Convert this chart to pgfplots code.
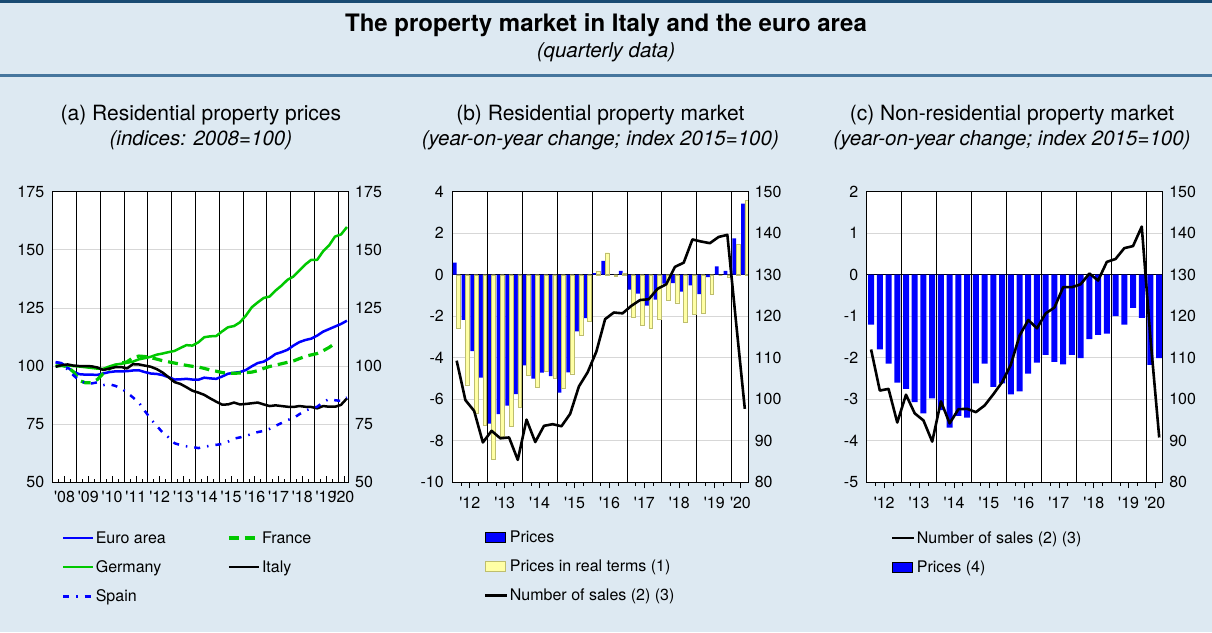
\documentclass[border=0pt]{standalone}
\usepackage{fontspec}
\setmainfont{TeX Gyre Heros}
\usepackage{pgfplots}
\pgfplotsset{compat=1.18}
\usepackage{pgfplotstable}

\definecolor{bgblue}{RGB}{221,233,242}
\definecolor{topline}{RGB}{25,75,115}
\definecolor{sepline}{RGB}{70,118,158}
\definecolor{mygreen}{RGB}{0,200,0}
\definecolor{baryellow}{RGB}{255,255,165}
\definecolor{baryedge}{RGB}{190,190,110}
\definecolor{gridgray}{RGB}{215,215,215}
\newcommand{\q}{\textquotesingle}

% Panel (a): quarterly indices 2008Q1..2020Q2 (x = quarter index + 0.5)
\pgfplotstableread{
x euro france germany italy spain
0.5 101.6 100.0 100.0 99.7 101.7
1.5 101.2 100.2 100.3 100.4 101.2
2.5 99.4 99.7 100.3 100.7 98.5
3.5 97.5 97.5 100.0 100.2 96.0
4.5 96.5 93.8 99.8 100.0 93.7
5.5 96.3 92.8 99.5 100.0 92.7
6.5 96.3 92.8 99.2 99.9 92.5
7.5 96.2 94.2 98.9 99.4 93.0
8.5 96.8 96.8 98.8 98.3 91.8
9.5 97.4 98.8 99.8 98.9 92.2
10.5 97.7 100.3 100.6 99.5 91.5
11.5 97.7 101.3 101.0 99.6 90.5
12.5 97.8 101.8 101.4 99.0 88.6
13.5 98.1 103.6 101.9 100.8 86.5
14.5 98.2 104.3 102.9 100.7 84.3
15.5 97.4 104.1 103.4 100.2 80.7
16.5 96.8 103.6 104.0 99.7 77.2
17.5 96.6 103.0 104.9 98.7 74.3
18.5 96.1 102.3 105.4 97.2 71.4
19.5 95.2 101.8 106.0 95.2 69.3
20.5 94.2 101.3 106.5 93.1 66.8
21.5 94.3 100.8 107.8 92.3 66.0
22.5 94.5 100.3 109.0 90.9 65.5
23.5 94.2 99.9 108.8 89.4 65.2
24.5 94.1 99.6 110.2 88.6 64.7
25.5 95.0 99.0 112.4 87.6 65.3
26.5 94.7 98.3 112.8 86.1 65.7
27.5 94.5 97.8 112.9 84.7 66.1
28.5 95.5 97.2 114.9 83.4 66.5
29.5 96.7 96.9 116.7 83.5 67.5
30.5 97.1 96.9 117.2 84.3 68.8
31.5 97.4 97.0 118.8 83.5 69.3
32.5 98.3 97.2 121.7 83.7 70.0
33.5 99.9 97.4 125.3 84.0 70.8
34.5 101.3 98.0 127.4 84.3 71.6
35.5 101.9 99.0 129.3 83.5 72.1
36.5 103.4 99.8 129.9 82.8 73.0
37.5 105.2 100.4 132.5 83.1 74.3
38.5 106.0 101.0 134.6 82.8 75.5
39.5 107.0 101.6 137.1 82.5 76.8
40.5 108.8 102.2 138.5 82.4 77.6
41.5 110.3 103.2 141.1 82.8 79.3
42.5 111.2 104.2 143.7 82.5 80.8
43.5 111.8 104.8 145.7 82.4 81.8
44.5 113.1 105.4 145.7 81.8 82.5
45.5 114.8 106.6 149.4 82.8 84.5
46.5 115.9 108.0 151.9 82.5 85.8
47.5 117.0 109.8 155.7 82.5 85.3
48.5 118.1 nan 156.6 83.3 85.0
49.5 119.5 nan 159.8 86.1 86.5
}\tabA

% Panels (b) and (c): 2012Q1..2020Q2
\pgfplotstableread{
x bp br bs cp cs
0.5 0.58 -2.60 109.3 -1.20 112.0
1.5 -2.17 -5.30 99.8 -1.80 102.1
2.5 -3.68 -6.66 97.2 -2.14 102.5
3.5 -4.96 -7.26 89.6 -2.60 94.4
4.5 -7.17 -8.91 92.4 -2.75 101.1
5.5 -6.71 -7.78 90.6 -3.07 96.6
6.5 -6.31 -7.30 90.8 -3.34 94.9
7.5 -5.75 -6.39 85.4 -2.98 89.8
8.5 -4.37 -4.86 95.1 -3.26 99.5
9.5 -5.00 -5.44 89.7 -3.68 94.2
10.5 -4.72 -4.67 93.6 -3.40 97.6
11.5 -4.88 -4.98 94.0 -3.44 97.7
12.5 -5.68 -5.49 93.5 -2.62 96.9
13.5 -4.70 -4.77 96.5 -2.14 98.5
14.5 -2.73 -2.92 103.1 -2.70 101.2
15.5 -2.09 -2.26 106.5 -2.62 104.1
16.5 0.08 0.16 111.5 -2.88 108.3
17.5 0.67 1.06 119.3 -2.81 115.3
18.5 0.00 -0.05 120.9 -2.38 119.1
19.5 0.18 0.05 120.7 -2.12 117.1
20.5 -0.72 -2.04 122.5 -1.93 120.7
21.5 -0.91 -2.41 123.9 -2.10 122.1
22.5 -1.49 -2.60 124.1 -2.16 127.0
23.5 -1.20 -2.12 126.6 -1.93 127.0
24.5 -0.43 -1.25 127.7 -2.01 127.7
25.5 -0.40 -1.35 131.9 -1.55 130.3
26.5 -0.82 -2.28 132.9 -1.45 128.6
27.5 -0.51 -1.91 138.5 -1.42 133.1
28.5 -0.93 -1.86 138.0 -1.00 133.8
29.5 -0.11 -0.96 137.6 -1.20 136.4
30.5 0.40 0.00 139.1 -0.80 136.9
31.5 0.19 -0.11 139.6 -1.04 141.6
32.5 1.75 1.45 118.5 -2.17 114.6
33.5 3.43 3.58 97.7 -2.01 90.8
}\tabB

\pgfplotsset{
  panelbase/.style={scale only axis, width=296pt, height=290.6pt, anchor=south west,
    tick label style={font=\fontsize{16}{18}\selectfont},
    tick align=inside, xtick pos=left, ytick style={draw=none},
    xtick style={black, line width=0.6pt},
    major tick length=6pt, minor tick length=3.5pt,
    axis line style={black, line width=0.8pt},
    ymajorgrids, major grid style={gridgray, line width=0.8pt},
    xticklabel style={yshift=-5pt},
    yticklabel style={xshift=-5pt},
    axis background/.style={fill=white},
    legend style={draw=none, fill=none, font=\fontsize{16}{18}\selectfont,
      anchor=north west, row sep=13pt, nodes={inner sep=1.5pt}},
    legend cell align=left,
  },
  rightbase/.style={scale only axis, width=296pt, height=290.6pt, anchor=south west,
    tick label style={font=\fontsize{16}{18}\selectfont},
    axis x line=none, axis y line*=right, ytick style={draw=none},
    axis line style={black, line width=0.8pt},
    yticklabel style={xshift=3pt},
  },
  linelegend/.style={legend image code/.code={\draw[##1] (0pt,0pt) -- (22pt,0pt);}},
  barlegend/.style={legend image code/.code={\draw[##1] (0pt,-5pt) rectangle (20pt,5pt);}},
}

\begin{document}
\begin{tikzpicture}
\fill[bgblue] (0pt,0pt) rectangle (1212pt,632pt);
\fill[topline] (0pt,629pt) rectangle (1212pt,632pt);
\fill[sepline] (0pt,555pt) rectangle (1212pt,557.5pt);
\node[font=\fontsize{24}{28}\selectfont\bfseries] at (606pt,607pt) {The property market in Italy and the euro area};
\node[font=\fontsize{20.5}{24}\selectfont\itshape] at (606pt,580pt) {(quarterly data)};

\node[font=\fontsize{21}{24}\selectfont] at (200.9pt,517pt) {(a) Residential property prices};
\node[font=\fontsize{20.5}{24}\selectfont\itshape] at (200.9pt,492pt) {(indices: 2008=100)};
\node[font=\fontsize{21}{24}\selectfont] at (600.3pt,517pt) {(b) Residential property market};
\node[font=\fontsize{20.5}{24}\selectfont\itshape] at (600.3pt,492pt) {(year-on-year change; index 2015=100)};
\node[font=\fontsize{21}{24}\selectfont] at (1012pt,517pt) {(c) Non-residential property market};
\node[font=\fontsize{20.5}{24}\selectfont\itshape] at (1012pt,492pt) {(year-on-year change; index 2015=100)};

% ---------- Panel (a) ----------
\begin{axis}[panelbase, at={(52.7pt,149.7pt)},
  xmin=0, xmax=49.8, ymin=50, ymax=175,
  ytick={50,75,100,125,150,175}, yticklabels={50,75,100,125,150,175},
  xtick={2,6,10,14,18,22,26,30,34,38,42,46,49},
  xticklabels={\q08,\q09,\q10,\q11,\q12,\q13,\q14,\q15,\q16,\q17,\q18,\q19,\q20},
  minor xtick={1,3,5,7,9,11,13,15,17,19,21,23,25,27,29,31,33,35,37,39,41,43,45,47},
  extra x ticks={4,8,12,16,20,24,28,32,36,40,44,48}, extra x tick labels={},
  extra x tick style={grid=major, major grid style={black, line width=0.8pt}, major tick length=0pt},
  legend columns=2,
  legend style={at={(0.02,-0.156)}, /tikz/every even column/.append style={column sep=60pt}},
  legend image code/.code={\draw[#1] (0pt,0pt) -- (30pt,0pt);},
]
\addplot[blue, line width=2.5pt, line join=round] table[x=x,y=euro]{\tabA};
\addlegendentry{Euro area}
\addplot[mygreen, line width=3.2pt, dash pattern=on 10pt off 6pt] table[x=x,y=france]{\tabA};
\addlegendentry{France}
\addplot[mygreen, line width=2.5pt, line join=round] table[x=x,y=germany]{\tabA};
\addlegendentry{Germany}
\addplot[black, line width=2.5pt, line join=round] table[x=x,y=italy]{\tabA};
\addlegendentry{Italy}
\addplot[blue, line width=2.5pt, dash pattern=on 6pt off 7pt on 1.5pt off 7pt] table[x=x,y=spain]{\tabA};
\addlegendentry{Spain}
\end{axis}
\begin{axis}[rightbase, at={(52.7pt,149.7pt)}, xmin=0, xmax=49.8, ymin=50, ymax=175,
  ytick={50,75,100,125,150,175}, yticklabels={50,75,100,125,150,175}]
\end{axis}

% ---------- Panel (b) ----------
\begin{axis}[panelbase, at={(452.3pt,149.7pt)}, ybar,
  xmin=0, xmax=33.9, ymin=-10, ymax=4,
  ytick={-10,-8,-6,-4,-2,0,2,4}, yticklabels={-10,-8,-6,-4,-2,0,2,4},
  xtick={2,6,10,14,18,22,26,30,33},
  xticklabels={\q12,\q13,\q14,\q15,\q16,\q17,\q18,\q19,\q20},
  minor xtick={1,3,5,7,9,11,13,15,17,19,21,23,25,27,29,31},
  extra x ticks={4,8,12,16,20,24,28,32}, extra x tick labels={},
  extra x tick style={grid=major, major grid style={black, line width=0.8pt}, major tick length=0pt},
  extra y ticks={0}, extra y tick labels={},
  extra y tick style={grid=major, major grid style={black, line width=0.8pt}},
  legend style={at={(0.095,-0.154)}},
]
\addplot[fill=blue, draw=none, bar width=3.8pt, bar shift=-1.9pt, barlegend] table[x=x,y=bp]{\tabB};
\addlegendentry{Prices}
\addplot[fill=baryellow, draw=baryedge, line width=0.4pt, bar width=3.8pt, bar shift=1.9pt, barlegend] table[x=x,y=br]{\tabB};
\addlegendentry{Prices in real terms (1)}
\addlegendimage{black, line width=2.8pt, linelegend}
\addlegendentry{Number of sales (2) (3)}
\end{axis}
\begin{axis}[rightbase, at={(452.3pt,149.7pt)}, xmin=0, xmax=33.9, ymin=80, ymax=150,
  ytick={80,90,100,110,120,130,140,150}, yticklabels={80,90,100,110,120,130,140,150}]
\addplot[black, line width=2.6pt, line join=round] table[x=x,y=bs]{\tabB};
\end{axis}

% ---------- Panel (c) ----------
\begin{axis}[panelbase, at={(866.7pt,149.7pt)}, ybar,
  xmin=0, xmax=33.9, ymin=-5, ymax=2,
  ytick={-5,-4,-3,-2,-1,0,1,2}, yticklabels={-5,-4,-3,-2,-1,0,1,2},
  xtick={2,6,10,14,18,22,26,30,33},
  xticklabels={\q12,\q13,\q14,\q15,\q16,\q17,\q18,\q19,\q20},
  minor xtick={1,3,5,7,9,11,13,15,17,19,21,23,25,27,29,31},
  extra x ticks={4,8,12,16,20,24,28,32}, extra x tick labels={},
  extra x tick style={grid=major, major grid style={black, line width=0.8pt}, major tick length=0pt},
  extra y ticks={0}, extra y tick labels={},
  extra y tick style={grid=major, major grid style={black, line width=0.8pt}},
  legend style={at={(0.07,-0.156)}},
]
\addlegendimage{black, line width=2.8pt, linelegend}
\addlegendentry{Number of sales (2) (3)}
\addplot[fill=blue, draw=none, bar width=6pt, bar shift=0pt, barlegend] table[x=x,y=cp]{\tabB};
\addlegendentry{Prices (4)}
\end{axis}
\begin{axis}[rightbase, at={(866.7pt,149.7pt)}, xmin=0, xmax=33.9, ymin=80, ymax=150,
  ytick={80,90,100,110,120,130,140,150}, yticklabels={80,90,100,110,120,130,140,150}]
\addplot[black, line width=2.6pt, line join=round] table[x=x,y=cs]{\tabB};
\end{axis}

\pgfresetboundingbox
\path[use as bounding box] (0pt,0pt) rectangle (1212pt,632pt);
\end{tikzpicture}
\end{document}
